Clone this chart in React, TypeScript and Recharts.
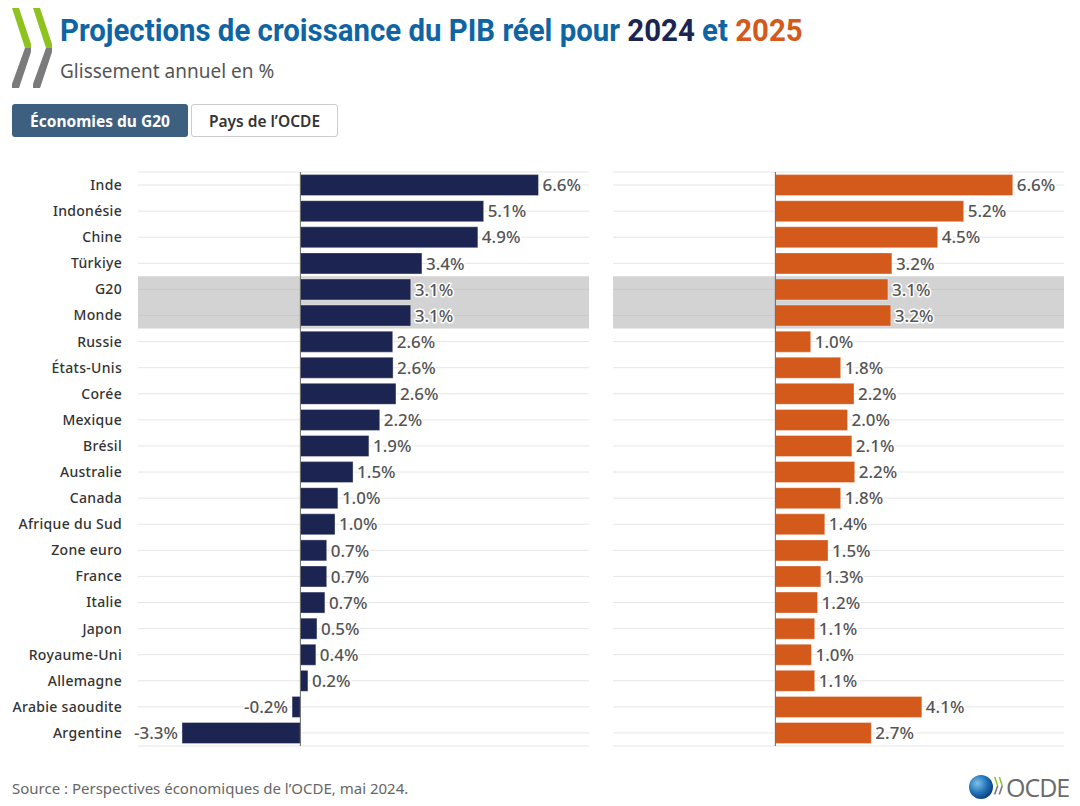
import { useLayoutEffect, useRef, useState } from 'react';
import { BarChart, Bar, XAxis, YAxis, CartesianGrid, ReferenceArea, ReferenceLine, LabelList } from 'recharts';

const categories = [
  'Inde', 'Indonésie', 'Chine', 'Türkiye', 'G20', 'Monde', 'Russie', 'États-Unis', 'Corée', 'Mexique',
  'Brésil', 'Australie', 'Canada', 'Afrique du Sud', 'Zone euro', 'France', 'Italie', 'Japon',
  'Royaume-Uni', 'Allemagne', 'Arabie saoudite', 'Argentine',
];
const growth2024 = [6.6, 5.08, 4.92, 3.37, 3.06, 3.06, 2.56, 2.57, 2.65, 2.2, 1.9, 1.46, 1.04, 0.96, 0.73, 0.73, 0.68, 0.46, 0.43, 0.21, -0.23, -3.28];
const growth2025 = [6.58, 5.22, 4.5, 3.23, 3.12, 3.2, 0.98, 1.81, 2.18, 2.0, 2.12, 2.2, 1.81, 1.37, 1.46, 1.26, 1.17, 1.09, 1.0, 1.09, 4.06, 2.66];
const highlighted = ['G20', 'Monde'];

const data = categories.map((name, i) => ({ name, v2024: growth2024[i], v2025: growth2025[i] }));

const NAVY = '#1c2551';
const ORANGE = '#d35a1b';

function ValueLabel(props: any) {
  const x = Number(props.x);
  const y = Number(props.y);
  const width = Number(props.width);
  const height = Number(props.height);
  const v = Number(props.value);
  const end = v >= 0 ? Math.max(x, x + width) : Math.min(x, x + width);
  return (
    <text
      x={v >= 0 ? end + 4 : end - 4}
      y={y + height / 2}
      dy="0.36em"
      textAnchor={v >= 0 ? 'start' : 'end'}
      fontSize={17}
      fontWeight={500}
      fill="#555"
      stroke="#fff"
      strokeWidth={3}
      strokeLinejoin="round"
      paintOrder="stroke"
    >
      {v.toFixed(1)}%
    </text>
  );
}

function Chevrons({ x, y, s }: { x: number; y: number; s: number }) {
  const one = (ox: number) => (
    <g key={ox}>
      <polygon points={`${ox},${y} ${ox + 7 * s},${y} ${ox + 19 * s},${y + 36 * s} ${ox + 19 * s},${y + 40 * s} ${ox + 13 * s},${y + 40 * s}`} fill="#8dc21f" />
      <polygon points={`${ox + 13 * s},${y + 40 * s} ${ox + 19 * s},${y + 40 * s} ${ox + 19 * s},${y + 44 * s} ${ox + 7 * s},${y + 80 * s} ${ox},${y + 80 * s} ${ox},${y + 76 * s}`} fill="#7b7b7b" />
    </g>
  );
  return <>{[one(x), one(x + 21 * s)]}</>;
}

function Title() {
  const ref = useRef<HTMLDivElement>(null);
  const [k, setK] = useState(1);
  useLayoutEffect(() => {
    if (ref.current) setK(743 / ref.current.scrollWidth);
  }, []);
  return (
    <div
      ref={ref}
      style={{
        position: 'absolute', left: 60, top: 10, whiteSpace: 'nowrap', fontFamily: "Roboto, 'Noto Sans', sans-serif",
        fontSize: 32, fontWeight: 700, lineHeight: '40px', color: '#0f64a3', transform: `scaleX(${k})`, transformOrigin: 'left top',
      }}
    >
      Projections de croissance du PIB réel pour <span style={{ color: NAVY }}>2024</span> et <span style={{ color: ORANGE }}>2025</span>
    </div>
  );
}

function Panel({ dataKey, color, showLabels, left, width, margin }: any) {
  return (
    <div style={{ position: 'absolute', left, top: 160 }}>
      <BarChart width={width} height={600} data={data} layout="vertical" margin={margin} barCategoryGap="10%">
        <CartesianGrid horizontal vertical={false} stroke="#e6e6e6" />
        <XAxis type="number" domain={[-4.5, 8]} hide allowDataOverflow />
        <YAxis
          type="category"
          dataKey="name"
          width={showLabels ? 138 : 0}
          hide={!showLabels}
          axisLine={false}
          tickLine={false}
          tickMargin={10}
          interval={0}
          tick={{ fontSize: 14, fill: '#333', fontWeight: 500, letterSpacing: 0.3 }}
        />
        <ReferenceArea y1={highlighted[0]} y2={highlighted[1]} fill="#b5b5b5" fillOpacity={0.6} strokeWidth={0} />
        <ReferenceLine x={0} stroke="#666" strokeWidth={1} />
        <Bar dataKey={dataKey} fill={color} stroke="#ffffff" strokeOpacity={0.35} isAnimationActive={false}>
          <LabelList dataKey={dataKey} content={ValueLabel} />
        </Bar>
      </BarChart>
    </div>
  );
}

export default function App() {
  return (
    <div style={{ position: 'absolute', left: 0, top: 0, width: 1080, height: 806, background: '#fff', fontFamily: "'Noto Sans', 'Open Sans', sans-serif", overflow: 'hidden' }}>
      <svg width={60} height={92} style={{ position: 'absolute', left: 0, top: 0 }}>
        <Chevrons x={12} y={8} s={1} />
      </svg>
      <Title />
      <div style={{ position: 'absolute', left: 60, top: 58, fontSize: 19, color: '#555' }}>Glissement annuel en %</div>

      <div style={{ position: 'absolute', left: 12, top: 104, width: 176, height: 33, background: '#3d6080', borderRadius: 3, color: '#fff', fontSize: 15.5, fontWeight: 700, display: 'flex', alignItems: 'center', justifyContent: 'center' }}>
        Économies du G20
      </div>
      <div style={{ position: 'absolute', left: 191, top: 104, width: 145, height: 31, border: '1px solid #ccc', borderRadius: 3, color: '#333', fontSize: 15.5, fontWeight: 600, display: 'flex', alignItems: 'center', justifyContent: 'center' }}>
        Pays de l’OCDE
      </div>

      <Panel dataKey="v2024" color={NAVY} showLabels left={0} width={600} margin={{ top: 12, right: 11, bottom: 14, left: 0 }} />
      <Panel dataKey="v2025" color={ORANGE} showLabels={false} left={600} width={480} margin={{ top: 12, right: 16, bottom: 14, left: 13 }} />

      <div style={{ position: 'absolute', left: 12, top: 778, fontSize: 15, color: '#666' }}>Source : Perspectives économiques de l’OCDE, mai 2024.</div>

      <svg width={120} height={34} style={{ position: 'absolute', left: 960, top: 770 }}>
        <defs>
          <radialGradient id="globe" cx="35%" cy="35%" r="70%">
            <stop offset="0%" stopColor="#7fc0ea" />
            <stop offset="60%" stopColor="#1f6fb5" />
            <stop offset="100%" stopColor="#0b3f7a" />
          </radialGradient>
        </defs>
        <circle cx={21} cy={17} r={12} fill="url(#globe)" />
        <Chevrons x={34} y={7} s={0.22} />
        <text x={46} y={27} fontSize={25} fill="#6a6a6a" fontFamily="'Open Sans', sans-serif" letterSpacing={-1}>OCDE</text>
      </svg>
    </div>
  );
}
